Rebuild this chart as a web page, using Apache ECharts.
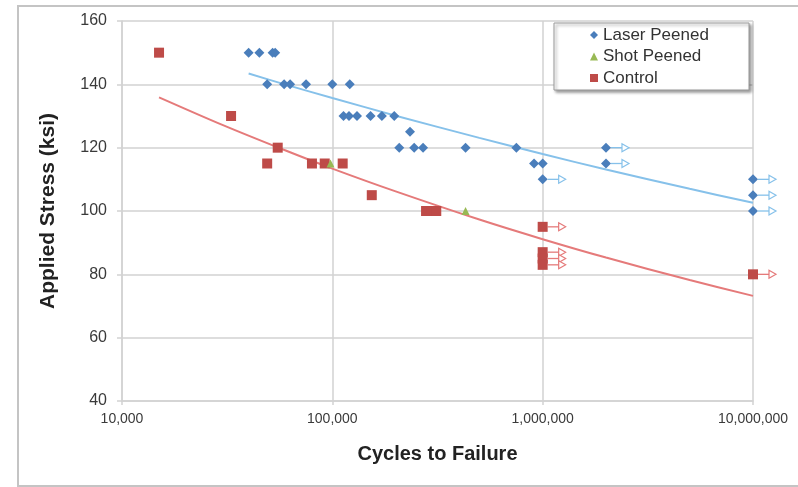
<!DOCTYPE html>
<html>
<head>
<meta charset="utf-8">
<script src="https://cdn.jsdelivr.net/npm/echarts@6/dist/echarts.min.js"></script>
<style>html,body{margin:0;padding:0;background:#fff}#c{width:798px;height:487px}</style>
</head>
<body>
<div id="c"></div>
<script>
// ---- data ----
var seriesNames = ['Laser Peened', 'Shot Peened', 'Control'];
var xTickValues = [10000, 100000, 1000000, 10000000];
var xTickLabels = ['10,000', '100,000', '1,000,000', '10,000,000'];
var yTickLabels = ['40', '60', '80', '100', '120', '140', '160'];

var laserPeened = [
  [40000,150],[45000,150],[52000,150],[53500,150],
  [49000,140],[59000,140],[63000,140],[75000,140],[100000,140],[121000,140],
  [113000,130],[120000,130],[131000,130],[152000,130],[172000,130],[197000,130],
  [234000,125],
  [208000,120],[245000,120],[270000,120],[430000,120],[750000,120],[2000000,120],
  [910000,115],[1000000,115],[2000000,115],
  [1000000,110],[10000000,110],[10000000,105],[10000000,100]
];
var shotPeened = [[98000,115],[430000,100]];
var control = [
  [15000,150],[33000,130],[55000,120],
  [49000,115],[80000,115],[92000,115],[112000,115],
  [154000,105],
  [279000,100],[295000,100],[312000,100],
  [1000000,95],[1000000,87],[1000000,85],[1000000,83],[10000000,80]
];
// run-outs (specimens that did not fail) marked with arrows
var laserRunouts = [[1000000,110],[2000000,120],[2000000,115],[10000000,110],[10000000,105],[10000000,100]];
var controlRunouts = [[1000000,95],[1000000,87],[1000000,85],[1000000,83],[10000000,80]];
// power-law trendlines
var laserTrend = [[40000,143.4],[60000,139.9],[100000,135.7],[200000,130.1],[500000,123.1],[1000000,118.0],[2000000,113.1],[5000000,107.0],[10000000,102.6]];
var controlTrend = [[15000,135.9],[30000,127.2],[60000,119.1],[100000,113.4],[200000,106.2],[500000,97.3],[1000000,91.1],[2000000,85.3],[5000000,78.2],[10000000,73.2]];

var BLUE = '#4A7EBB', RED = '#BE4B48', GREEN = '#98B954';
var BLUE_L = '#86C1EA', RED_L = '#E57A7A';

function arrowRenderer(color) {
  return function (params, api) {
    var p = api.coord([api.value(0), api.value(1)]);
    var x0 = p[0] + 5, x1 = p[0] + 23, y = p[1];
    return {
      type: 'group',
      children: [
        { type: 'line', shape: { x1: x0, y1: y, x2: x1 - 6, y2: y }, style: { stroke: color, lineWidth: 1.3 } },
        { type: 'polygon', shape: { points: [[x1 - 7, y - 4], [x1, y], [x1 - 7, y + 4]] }, style: { fill: '#fff', stroke: color, lineWidth: 1.2 } }
      ]
    };
  };
}

var chart = echarts.init(document.getElementById('c'), null, { renderer: 'canvas' });
var gridColor = '#D2D2D2';
chart.setOption({
  animation: false,
  backgroundColor: '#fff',
  textStyle: { fontFamily: 'Liberation Sans, Arial, sans-serif' },
  graphic: [
    { type: 'rect', shape: { x: 18, y: 6, width: 800, height: 480 }, style: { fill: 'none', stroke: '#C4C4C4', lineWidth: 2 }, z: -1 },
    { type: 'rect', shape: { x: 554, y: 23, width: 195, height: 67 }, z: 5,
      style: { fill: '#fff', stroke: '#9A9A9A', lineWidth: 1,
               shadowColor: 'rgba(0,0,0,0.4)', shadowBlur: 3, shadowOffsetX: 2, shadowOffsetY: 2 } }
  ],
  grid: { left: 122, right: 45, top: 21, bottom: 86, containLabel: false },
  legend: {
    orient: 'vertical',
    left: 590, top: 26.5,
    padding: 0,
    z: 10,
    itemWidth: 8, itemHeight: 8, itemGap: 4.5,
    textStyle: { fontSize: 17, color: '#333', lineHeight: 17 },
    data: [
      { name: seriesNames[0], icon: 'diamond' },
      { name: seriesNames[1], icon: 'triangle' },
      { name: seriesNames[2], icon: 'rect' }
    ]
  },
  xAxis: {
    type: 'log', logBase: 10, min: 10000, max: 10000000,
    name: 'Cycles to Failure', nameLocation: 'middle', nameGap: 43,
    nameTextStyle: { fontSize: 20, fontWeight: 'bold', color: '#222' },
    axisLine: { show: true, lineStyle: { color: gridColor, width: 1.5 } },
    axisTick: { show: true, length: 4, lineStyle: { color: gridColor, width: 1.5 } },
    minorTick: { show: false },
    splitLine: { show: true, lineStyle: { color: gridColor, width: 1.5 } },
    axisLabel: {
      fontSize: 14, color: '#3A3A3A', margin: 11,
      formatter: function (v) {
        var i = xTickValues.indexOf(Math.round(v));
        return i >= 0 ? xTickLabels[i] : '';
      }
    }
  },
  yAxis: {
    type: 'value', min: 40, max: 160, interval: 20,
    name: 'Applied Stress (ksi)', nameLocation: 'middle', nameGap: 63, nameRotate: 90,
    nameTextStyle: { fontSize: 21, fontWeight: 'bold', color: '#222' },
    axisLine: { show: true, lineStyle: { color: gridColor, width: 1.5 } },
    axisTick: { show: true, length: 5, lineStyle: { color: gridColor, width: 1.5 } },
    splitLine: { show: true, lineStyle: { color: gridColor, width: 1.5 } },
    axisLabel: {
      fontSize: 16, color: '#3A3A3A', margin: 15,
      formatter: function (v) {
        var i = yTickLabels.indexOf(String(v));
        return i >= 0 ? yTickLabels[i] : '';
      }
    }
  },
  series: [
    { name: 'laserTrend', type: 'line', data: laserTrend, smooth: 0.3, showSymbol: false, symbol: 'none',
      lineStyle: { color: BLUE_L, width: 2 }, z: 1, silent: true, legendHoverLink: false },
    { name: 'controlTrend', type: 'line', data: controlTrend, smooth: 0.3, showSymbol: false, symbol: 'none',
      lineStyle: { color: RED_L, width: 2 }, z: 1, silent: true, legendHoverLink: false },
    { name: 'laserArrows', type: 'custom', renderItem: arrowRenderer(BLUE_L), data: laserRunouts, z: 2, silent: true },
    { name: 'controlArrows', type: 'custom', renderItem: arrowRenderer(RED_L), data: controlRunouts, z: 2, silent: true },
    { name: seriesNames[0], type: 'scatter', symbol: 'diamond', symbolSize: 10, data: laserPeened,
      itemStyle: { color: BLUE, opacity: 1 }, z: 3 },
    { name: seriesNames[1], type: 'scatter', symbol: 'triangle', symbolSize: 8, data: shotPeened,
      itemStyle: { color: GREEN, opacity: 1 }, z: 4 },
    { name: seriesNames[2], type: 'scatter', symbol: 'rect', symbolSize: 10, data: control,
      itemStyle: { color: RED, opacity: 1 }, z: 3 }
  ]
});
</script>
</body>
</html>
